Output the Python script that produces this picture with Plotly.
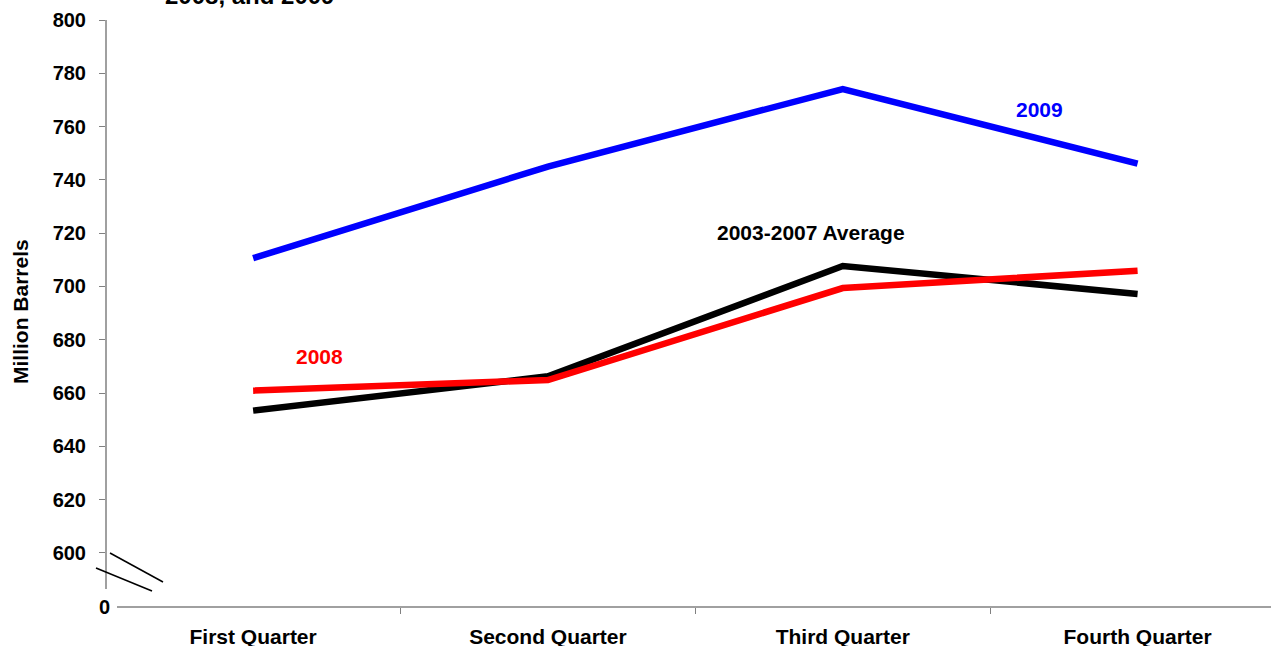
import plotly.graph_objects as go

# Quarterly crude oil inventories, million barrels
quarters = ["First Quarter", "Second Quarter", "Third Quarter", "Fourth Quarter"]
avg_2003_2007 = [653.4, 666.3, 707.7, 697.2]
y2008 = [660.9, 664.9, 699.4, 705.9]
y2009 = [710.6, 745.0, 774.1, 746.1]

ytick_vals = [600, 620, 640, 660, 680, 700, 720, 740, 760, 780, 800]
ytick_text = [str(v) for v in ytick_vals]

FONT = "Liberation Sans, Arial, sans-serif"
W, H = 1271, 646
ML, MR, MT, MB = 106, 0, 20, 39
PW, PH = W - ML - MR, H - MT - MB
FS = 21


def px(xp):
    return (xp - ML) / PW


def py(yp):
    return (H - MB - yp) / PH


fig = go.Figure()
for name, vals, color in [
    ("2003-2007 Average", avg_2003_2007, "#000000"),
    ("2008", y2008, "#FF0000"),
    ("2009", y2009, "#0000FF"),
]:
    fig.add_trace(go.Scatter(
        x=quarters, y=vals, mode="lines", name=name,
        line=dict(color=color, width=6.5),
        hoverinfo="skip",
    ))

fig.update_layout(
    width=W, height=H,
    margin=dict(l=ML, r=MR, t=MT, b=MB, pad=0),
    paper_bgcolor="white", plot_bgcolor="white",
    showlegend=False,
    font=dict(family=FONT, size=FS, color="#000000"),
    xaxis=dict(
        type="category", categoryorder="array", categoryarray=quarters,
        range=[-0.499, 3.4525],
        showgrid=False, zeroline=False, showline=False,
        ticks="outside", tickson="boundaries", ticklen=6, tickwidth=1,
        tickcolor="#808080",
        tickfont=dict(family=FONT, size=FS, color="#000000", weight="bold"),
        ticklabelstandoff=15,
        automargin=False,
    ),
    yaxis=dict(
        range=[579.7, 800],
        tickvals=ytick_vals, ticktext=ytick_text,
        showgrid=False, zeroline=False, showline=False,
        ticks="outside", ticklen=6, tickwidth=1, tickcolor="#808080",
        tickfont=dict(family=FONT, size=20, color="#000000", weight="bold"),
        ticklabelstandoff=9,
        automargin=False,
    ),
)

# Axis lines with a scale break between 0 and 600
fig.add_shape(type="line", xref="paper", yref="paper",
              x0=0, x1=0, y0=py(589), y1=1,
              line=dict(color="#808080", width=1.5))
fig.add_shape(type="line", xref="paper", yref="paper",
              x0=px(117), x1=1, y0=0, y1=0,
              line=dict(color="#808080", width=1.5))
fig.add_shape(type="line", xref="paper", yref="paper",
              x0=px(110), y0=py(553), x1=px(163), y1=py(582),
              line=dict(color="#000000", width=1.5))
fig.add_shape(type="line", xref="paper", yref="paper",
              x0=px(96), y0=py(568), x1=px(152), y1=py(591),
              line=dict(color="#000000", width=1.5))

bold = dict(family=FONT, size=FS, weight="bold")

# "0" label below the break
fig.add_annotation(text="0", xref="paper", yref="paper", x=px(104.5), y=0,
                   xanchor="center", yanchor="middle", showarrow=False,
                   font=dict(family=FONT, size=20, weight="bold", color="#000000"))

# Y axis title
fig.add_annotation(text="Million Barrels", xref="paper", yref="paper",
                   x=px(20.5), y=py(311.5), textangle=-90,
                   xanchor="center", yanchor="middle", showarrow=False,
                   font=dict(bold, color="#000000"))

# Chart title (second line sits at the top edge)
fig.add_annotation(text="2008, and 2009", xref="paper", yref="paper",
                   x=px(249.5), y=py(-4.6), xanchor="center", yanchor="middle",
                   showarrow=False,
                   font=dict(family=FONT, size=24, weight="bold", color="#000000"))

# Series labels
fig.add_annotation(text="2009", x=2.668, y=766.6, xref="x", yref="y",
                   showarrow=False, xanchor="center", yanchor="middle",
                   font=dict(bold, color="#0000FF"))
fig.add_annotation(text="2008", x=0.225, y=673.9, xref="x", yref="y",
                   showarrow=False, xanchor="center", yanchor="middle",
                   font=dict(bold, color="#FF0000"))
fig.add_annotation(text="2003-2007 Average", x=1.891, y=720.1, xref="x", yref="y",
                   showarrow=False, xanchor="center", yanchor="middle",
                   font=dict(bold, color="#000000"))

fig.write_html("out.html")
